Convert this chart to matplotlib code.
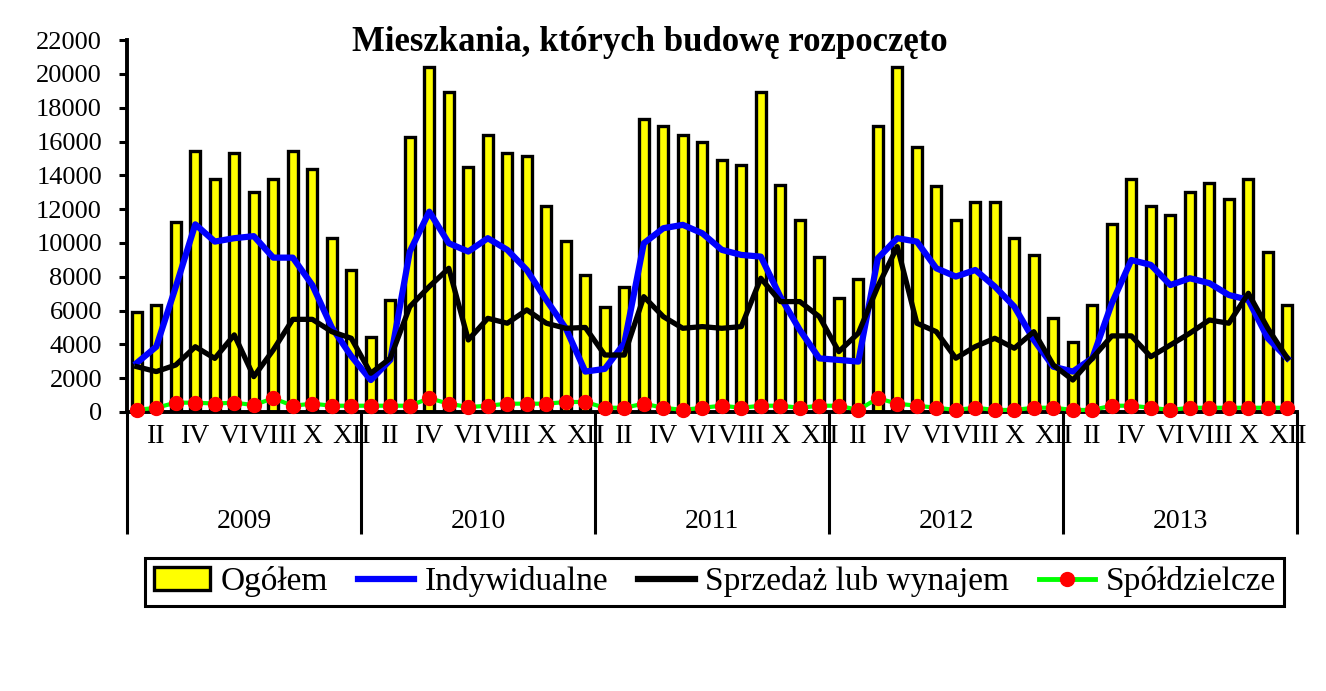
import numpy as np
import matplotlib.pyplot as plt
import matplotlib.transforms as mtransforms
from matplotlib.lines import Line2D
from matplotlib.patches import Patch

plt.rcParams['font.family'] = ['Liberation Serif', 'DejaVu Serif']

years = ['2009', '2010', '2011', '2012', '2013']
month_labels = ['', 'II', '', 'IV', '', 'VI', '', 'VIII', '', 'X', '', 'XII']

# Ogółem
ogolem = [5900, 6330, 11220, 15440, 13770, 15300, 13000, 13770, 15440, 14360, 10280, 8400,
          4420, 6630, 16250, 20430, 18950, 14520, 16370, 15300, 15150, 12190, 10140, 8100,
          6230, 7420, 17320, 16890, 16370, 15980, 14910, 14620, 18920, 13430, 11360, 9190,
          6730, 7850, 16890, 20430, 15700, 13390, 11360, 12400, 12400, 10280, 9290, 5540,
          4160, 6330, 11100, 13770, 12190, 11660, 13000, 13530, 12580, 13770, 9490, 6310]
# Indywidualne
indyw = [2900, 3860, 7400, 11100, 10080, 10280, 10400, 9130, 9130, 7510, 5000, 3300,
         1890, 3080, 9490, 11850, 9980, 9490, 10280, 9590, 8400, 6630, 4950, 2390,
         2550, 4060, 9980, 10870, 11070, 10570, 9590, 9290, 9190, 6820, 4850, 3170,
         3080, 2980, 9090, 10280, 10080, 8500, 8010, 8400, 7420, 6230, 4260, 2680,
         2390, 3180, 6430, 8990, 8700, 7510, 7910, 7620, 6920, 6630, 4360, 3180]
# Sprzedaż lub wynajem
sprzedaz = [2680, 2390, 2780, 3860, 3170, 4560, 2090, 3670, 5480, 5480, 4750, 4360,
            2290, 3180, 6230, 7420, 8500, 4260, 5540, 5250, 6040, 5250, 4950, 5000,
            3370, 3370, 6820, 5640, 4950, 5050, 4950, 5050, 7910, 6530, 6530, 5640,
            3570, 4660, 7420, 9780, 5250, 4750, 3180, 3870, 4360, 3770, 4750, 2780,
            1890, 3180, 4500, 4500, 3270, 3960, 4660, 5440, 5250, 7020, 4950, 3180]
# Spółdzielcze
spoldz = [120, 250, 550, 550, 500, 550, 410, 810, 370, 490, 370, 370,
          370, 370, 370, 810, 490, 290, 370, 490, 490, 490, 590, 590,
          250, 250, 490, 250, 120, 250, 370, 250, 370, 370, 250, 370,
          370, 120, 810, 490, 370, 250, 120, 250, 120, 120, 250, 250,
          120, 120, 370, 370, 250, 120, 250, 250, 250, 250, 250, 250]

n = len(ogolem)
x = np.arange(n) + 0.5

fig = plt.figure(figsize=(13.26, 6.91), dpi=100)
ax = fig.add_axes([0.0958, 0.4038, 0.8824, 0.5382])

ax.bar(x, ogolem, width=0.52, color='#ffff00', edgecolor='black', linewidth=2.4, zorder=2)
ax.plot(x, indyw, color='#0000ff', lw=4.5, zorder=3)
ax.plot(x, sprzedaz, color='black', lw=3.8, zorder=4)
ax.plot(x, spoldz, color='#00ff00', lw=3, zorder=5)
ax.plot(x, spoldz, 'o', color='#ff0000', ms=10, mec='#ff0000', zorder=6, clip_on=False)

ax.set_xlim(0, n)
ax.set_ylim(0, 22000)
ax.set_yticks(np.arange(0, 22001, 2000))
ax.tick_params(axis='y', direction='out', length=6, width=2.2, labelsize=19, pad=12)

# year separators as long major ticks, month names as minor labels
ax.set_xticks(np.arange(0, n + 1, 12))
ax.set_xticklabels([])
ax.tick_params(axis='x', which='major', direction='out', length=88, width=2.2)
ax.set_xticks(x, minor=True)
ax.set_xticklabels(month_labels * len(years), minor=True)
ax.tick_params(axis='x', which='minor', length=0, labelsize=20, pad=9)

trans = mtransforms.blended_transform_factory(ax.transData, ax.transAxes)
for i, yr in enumerate(years):
    ax.text(i * 12 + 6, -0.295, yr, transform=trans, ha='center', va='center', fontsize=20)

for s in ['top', 'right']:
    ax.spines[s].set_visible(False)
ax.spines['left'].set_linewidth(2.8)
ax.spines['bottom'].set_linewidth(2.8)

fig.text(0.49, 0.938, 'Mieszkania, których budowę rozpoczęto', ha='center', va='center',
         fontsize=25, fontweight='bold')

handles = [Patch(facecolor='#ffff00', edgecolor='black', linewidth=2.4),
           Line2D([], [], color='#0000ff', lw=4.5),
           Line2D([], [], color='black', lw=4.5),
           Line2D([], [], color='#00ff00', lw=3.5, marker='o', mfc='#ff0000', mec='#ff0000', ms=10)]
labels = ['Ogółem', 'Indywidualne', 'Sprzedaż lub wynajem', 'Spółdzielcze']
leg = fig.legend(handles, labels, loc='center', bbox_to_anchor=(0.539, 0.158), ncol=4,
                 fontsize=24, frameon=True, fancybox=False, edgecolor='black', framealpha=1,
                 handlelength=1.7, handletextpad=0.3, columnspacing=0.9, borderpad=0.25)
leg.get_frame().set_linewidth(2.2)

fig.savefig('out.png', dpi=100)
